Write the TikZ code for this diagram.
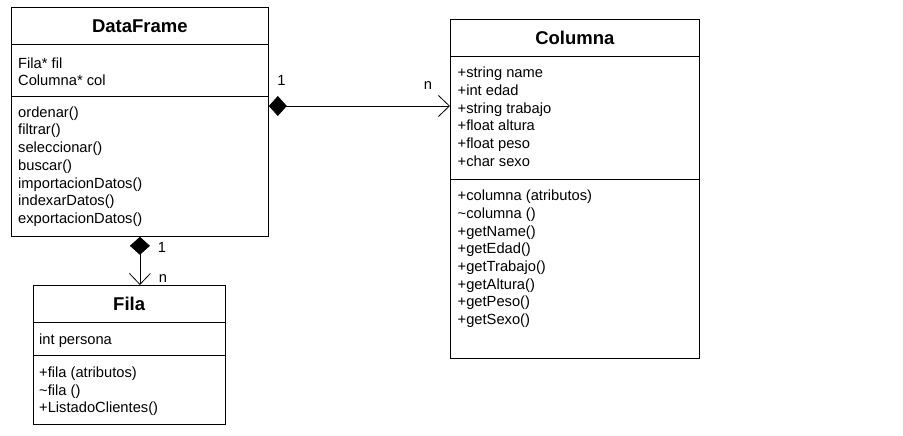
\documentclass[tikz,border=0pt]{standalone}
\usepackage{fontspec}
\setmainfont[Ligatures=CommonOff]{Liberation Sans}
\usetikzlibrary{arrows.meta}

\begin{document}
\begin{tikzpicture}[x=1pt, y=-1pt,
  umlbox/.style={draw, line width=0.8pt, anchor=north west, inner sep=0pt},
  sepline/.style={line width=0.8pt},
  classname/.style={font=\fontsize{18.5}{21}\selectfont\bfseries, anchor=base, inner sep=0pt},
  memb/.style={font=\fontsize{14.7}{17.7}\selectfont, anchor=base west, inner sep=0pt},
  mult/.style={font=\fontsize{14.7}{17.7}\selectfont, anchor=base, inner sep=0pt},
  assoc/.style={line width=0.8pt, line join=miter, {Diamond[length=18pt,width=20pt]}-{Straight Barb[length=11pt,width=21pt]}}]

\fill[white] (0,0) rectangle (903,436);
\useasboundingbox (0,0) rectangle (903,436);

\node[umlbox, minimum width=257pt, minimum height=229pt] (df) at (11,7) {};
\draw[sepline] (df.west |- 0,44) -- (df.east |- 0,44);
\draw[sepline] (df.west |- 0,96) -- (df.east |- 0,96);
\node[classname] (dfname) at (df.north |- 0,33) {DataFrame};
\foreach \t [count=\i] in {Fila* fil, Columna* col}
  \node[memb] (dfa\i) at (18, {50.6+17.7*\i}) {\t};
\foreach \t [count=\i] in {ordenar(), filtrar(), seleccionar(), buscar(), importacionDatos(), indexarDatos(), exportacionDatos()}
  \node[memb] (dfm\i) at (18, {99.5+17.7*\i}) {\t};

\node[umlbox, minimum width=249pt, minimum height=338.5pt] (col) at (450,19) {};
\draw[sepline] (col.west |- 0,56.7) -- (col.east |- 0,56.7);
\draw[sepline] (col.west |- 0,179.3) -- (col.east |- 0,179.3);
\node[classname] (colname) at (col.north |- 0,45) {Columna};
\foreach \t [count=\i] in {+string name, +int edad, +string trabajo, +float altura, +float peso, +char sexo}
  \node[memb] (cola\i) at (457.5, {60+17.7*\i}) {\t};
\foreach \t [count=\i] in {+columna (atributos), \textasciitilde columna (), +getName(), +getEdad(), +getTrabajo(), +getAltura(), +getPeso(), +getSexo()}
  \node[memb] (colm\i) at (457.5, {183+17.7*\i}) {\t};

\node[umlbox, minimum width=191.5pt, minimum height=139pt] (fila) at (33,285) {};
\draw[sepline] (fila.west |- 0,322.7) -- (fila.east |- 0,322.7);
\draw[sepline] (fila.west |- 0,355) -- (fila.east |- 0,355);
\node[classname] (filaname) at (fila.north |- 0,310.7) {Fila};
\node[memb] (filaa1) at (39,344) {int persona};
\foreach \t [count=\i] in {+fila (atributos), \textasciitilde fila (), +ListadoClientes()}
  \node[memb] (filam\i) at (39, {359.6+17.7*\i}) {\t};

\coordinate (dfport) at ([yshift=-99pt]df.north east);
\draw[assoc] (dfport) -- (dfport -| col.west);
\draw[assoc] (df.south) -- (df.south |- fila.north);

\node[mult] (m1) at (281.5,86) {1};
\node[mult] (m2) at (428,89) {n};
\node[mult] (m3) at (162,252) {1};
\node[mult] (m4) at (163,282) {n};

\end{tikzpicture}
\end{document}
